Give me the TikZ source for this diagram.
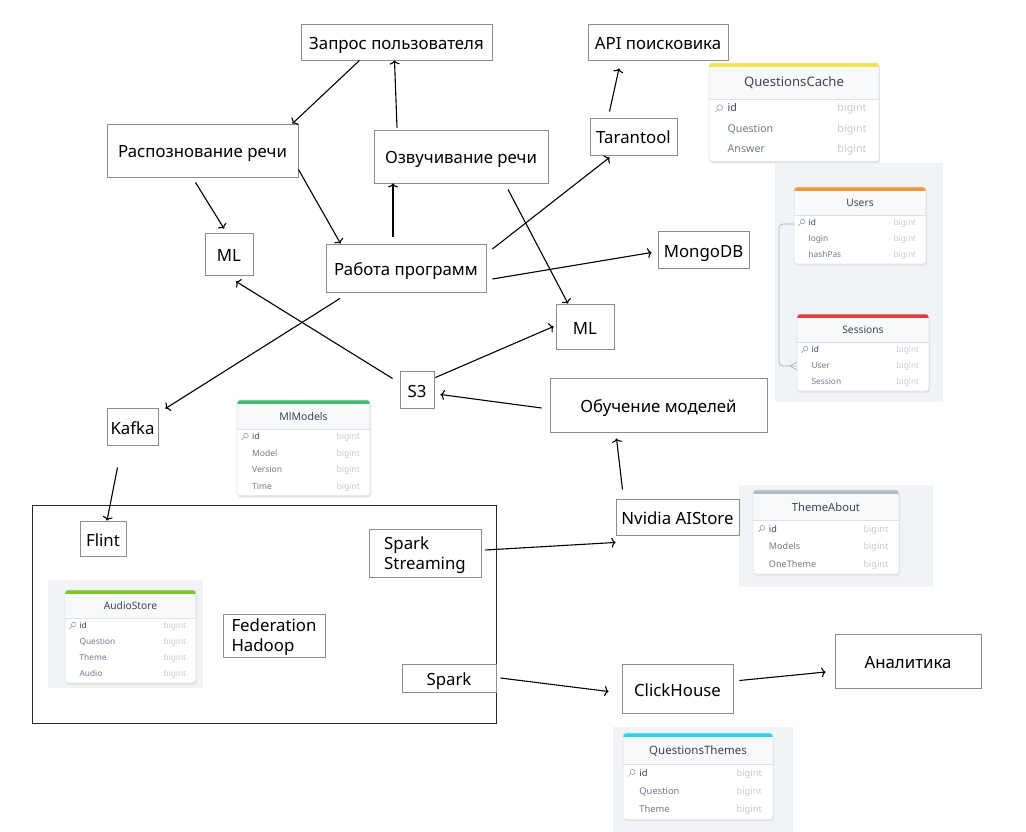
\documentclass[tikz,border=0pt]{standalone}
\usepackage{fontspec}
\setmainfont{Noto Sans}
\usetikzlibrary{arrows.meta}
\definecolor{dbpanel}{HTML}{F0F4F7}
\definecolor{dbhead}{HTML}{F7F9FB}
\definecolor{dbedge}{HTML}{DDE3EA}
\definecolor{dbtitle}{HTML}{3A4656}
\definecolor{dbname}{HTML}{6E7A8A}
\definecolor{dbtype}{HTML}{C5CBD3}
\definecolor{dbrel}{HTML}{AAB4C0}
\definecolor{barYellow}{HTML}{F5E447}
\definecolor{barOrange}{HTML}{F7973C}
\definecolor{barRed}{HTML}{E8383B}
\definecolor{barGreen}{HTML}{3DBE6E}
\definecolor{barLime}{HTML}{7CC623}
\definecolor{barGrey}{HTML}{B4BCC7}
\definecolor{barCyan}{HTML}{2DD4EF}
\tikzset{
	blk/.style={draw=black!45, fill=white, line width=0.9pt, inner sep=0pt, text height=15pt, text depth=0pt, font=\fontsize{16.8}{20}\selectfont},
	twoline/.style={align=left, text height=37pt, text depth=5pt},
	conn/.style={-{To[length=4pt,width=10pt]}, line width=1.1pt},
	dbline/.style={draw=dbedge, line width=0.6pt}
}
\newcommand{\dbtable}[7]{%
	\pgfmathsetmacro\dbhb{#2+1.75*#6}
	\pgfmathsetmacro\dbts{0.64*#6}
	\pgfmathsetmacro\dbrs{0.52*#6}
	\foreach \r [count=\i] in {#7} {\xdef\dbn{\i}}
	\pgfmathsetmacro\dbbot{\dbhb+(\dbn+1.05)*#6}
	\fill[black!10, rounded corners=3pt] ({#1+1},{#2+2}) rectangle ({#1+#3+1},{\dbbot+2});
	\begin{scope}
		\clip[rounded corners=3pt] (#1,#2) rectangle ({#1+#3},\dbbot);
		\fill[white] (#1,#2) rectangle ({#1+#3},\dbbot);
		\fill[dbhead] (#1,#2) rectangle ({#1+#3},\dbhb);
		\fill[#4] (#1,#2) rectangle ({#1+#3},{#2+4});
	\end{scope}
	\draw[dbline] (#1,\dbhb) -- ({#1+#3},\dbhb);
	\draw[dbline, rounded corners=3pt] (#1,#2) rectangle ({#1+#3},\dbbot);
	\node[text=dbtitle, inner sep=0pt] at ({#1+#3/2},{(#2+4+\dbhb)/2}) {\fontsize{\dbts}{\dbts}\selectfont #5};
	\draw[dbname!80, line width=0.5pt] ({#1+0.45*#6+1.5},{\dbhb+0.5*#6-1.5}) circle ({0.14*#6})
		({#1+0.45*#6},{\dbhb+0.5*#6}) -- ({#1+0.45*#6-3},{\dbhb+0.5*#6+3});
	\node[text=dbtitle, anchor=mid west, inner sep=0pt] at ({#1+0.9*#6},{\dbhb+0.5*#6}) {\fontsize{\dbrs}{\dbrs}\selectfont\bfseries id};
	\node[text=dbtype, anchor=mid east, inner sep=0pt] at ({#1+#3-0.6*#6},{\dbhb+0.5*#6}) {\fontsize{\dbrs}{\dbrs}\selectfont bigint};
	\foreach \r [count=\i] in {#7} {
		\node[text=dbname, anchor=mid west, inner sep=0pt] at ({#1+0.9*#6},{\dbhb+(0.5+\i)*#6}) {\fontsize{\dbrs}{\dbrs}\selectfont \r};
		\node[text=dbtype, anchor=mid east, inner sep=0pt] at ({#1+#3-0.6*#6},{\dbhb+(0.5+\i)*#6}) {\fontsize{\dbrs}{\dbrs}\selectfont bigint};
	}
}
\begin{document}
\begin{tikzpicture}[x=1pt, y=-1pt]
	\useasboundingbox (0,0) rectangle (1026,832);
	\fill[dbpanel] (775,163) rectangle (943,402);
	\fill[dbpanel] (48,580) rectangle (203,688);
	\fill[dbpanel] (739,485) rectangle (933,587);
	\fill[dbpanel] (613,727) rectangle (793,832);
	\dbtable{709}{63}{170}{barYellow}{QuestionsCache}{20.5}{Question,Answer}
	\dbtable{794}{187}{132}{barOrange}{Users}{16}{login,hashPas}
	\dbtable{797}{314}{132}{barRed}{Sessions}{16}{User,Session}
	\dbtable{237}{400}{133}{barGreen}{MlModels}{16.5}{Model,Version,Time}
	\dbtable{65}{590}{131}{barLime}{AudioStore}{16}{Question,Theme,Audio}
	\dbtable{753}{490}{146}{barGrey}{ThemeAbout}{17.5}{Models,OneTheme}
	\dbtable{623}{733}{150}{barCyan}{QuestionsThemes}{18}{Question,Theme}
	\draw[dbrel, line width=0.7pt, rounded corners=4pt] (794,224) -- (779,224) -- (779,366) -- (797,366);
	\draw[dbrel, line width=0.7pt] (790,366) -- (797,362) (790,366) -- (797,370);

	\node[draw=black!85, line width=1pt, inner sep=0pt, minimum width=464pt, minimum height=218pt] (hadoop) at (264,614) {};

	\node[blk, minimum width=191pt, minimum height=36pt] (zapros) at (396.5,42) {Запрос пользователя};
	\node[blk, minimum width=140pt, minimum height=36pt] (api) at (658,42) {API поисковика};
	\node[blk, minimum width=191pt, minimum height=53pt] (raspozn) at (202.5,150.5) {Распознование речи};
	\node[blk, minimum width=174pt, minimum height=53pt] (ozvuch) at (461,156.5) {Озвучивание речи};
	\node[blk, minimum width=87pt, minimum height=37pt] (tarantool) at (633.5,136.5) {Tarantool};
	\node[blk, minimum width=48pt, minimum height=42pt] (mlA) at (229,254) {ML};
	\node[blk, minimum width=160pt, minimum height=48pt] (rabota) at (406,268) {Работа программ};
	\node[blk, minimum width=91pt, minimum height=37pt] (mongo) at (703.5,249.5) {MongoDB};
	\node[blk, minimum width=58pt, minimum height=45pt] (mlB) at (585,326.5) {ML};
	\node[blk, minimum width=34pt, minimum height=37pt] (sthree) at (417,389.5) {S3};
	\node[blk, minimum width=217pt, minimum height=54pt] (obuch) at (658.5,405) {Обучение моделей};
	\node[blk, minimum width=51pt, minimum height=37pt] (kafka) at (132.5,426.5) {Kafka};
	\node[blk, minimum width=46pt, minimum height=35pt] (flint) at (103,538.5) {Flint};
	\node[blk, twoline, minimum width=112pt, minimum height=48pt] (sstream) at (425,553) {Spark\\Streaming};
	\node[blk, minimum width=123pt, minimum height=36pt] (nvidia) at (677.5,517) {Nvidia AIStore};
	\node[blk, twoline, minimum width=102pt, minimum height=43pt] (fedhad) at (274,635.5) {Federation\\Hadoop};
	\node[blk, minimum width=94pt, minimum height=28pt] (spark) at (449,678) {Spark};
	\node[blk, minimum width=111pt, minimum height=49pt] (click) at (677.5,688.5) {ClickHouse};
	\node[blk, minimum width=146pt, minimum height=54pt] (analit) at (908,661) {Аналитика};

	\path[conn]
	([xshift=-37pt]zapros.south) edge ([xshift=-6pt]raspozn.north east)
	([xshift=-64pt, yshift=2pt]ozvuch.north) edge ([xshift=-2pt]zapros.south)
	([xshift=-7pt, yshift=-5pt]raspozn.south) edge ([xshift=-5pt, yshift=4pt]mlA.north)
	([yshift=-19pt]raspozn.east) edge ([xshift=15pt]rabota.north west)
	([xshift=-13pt, yshift=7pt]rabota.north) edge ([xshift=-68pt]ozvuch.south)
	([xshift=6pt, yshift=19pt]rabota.east) edge ([xshift=-24pt, yshift=-2pt]tarantool.south)
	([xshift=-24pt, yshift=6pt]tarantool.north) edge ([xshift=-39pt, yshift=-8pt]api.south)
	([xshift=6pt, yshift=-11pt]rabota.east) edge ([xshift=-6pt, yshift=-3pt]mongo.west)
	([xshift=47pt, yshift=-6pt]ozvuch.south) edge ([xshift=-17pt]mlB.north)
	([xshift=1pt, yshift=12pt]sthree.east) edge ([xshift=-2pt]mlB.west)
	([xshift=-8pt, yshift=-3pt]obuch.west) edge ([xshift=6pt, yshift=-5pt]sthree.east)
	([xshift=-7pt, yshift=11pt]sthree.west) edge ([xshift=7pt, yshift=-6pt]mlA.south)
	([xshift=-66pt, yshift=-6pt]rabota.south) edge ([xshift=7pt, yshift=-1pt]kafka.north east)
	([xshift=-15pt, yshift=-22pt]kafka.south) edge ([xshift=4pt]flint.north)
	([xshift=-55pt, yshift=9pt]nvidia.north) edge ([xshift=-42pt, yshift=-6pt]obuch.south)
	([xshift=4pt, yshift=3pt]sstream.east) edge ([yshift=-7pt]nvidia.south west)
	([xshift=4pt]spark.east) edge ([xshift=-13pt, yshift=-3pt]click.west)
	([xshift=6pt, yshift=8pt]click.east) edge ([xshift=-9pt, yshift=-11pt]analit.west);
\end{tikzpicture}
\end{document}
